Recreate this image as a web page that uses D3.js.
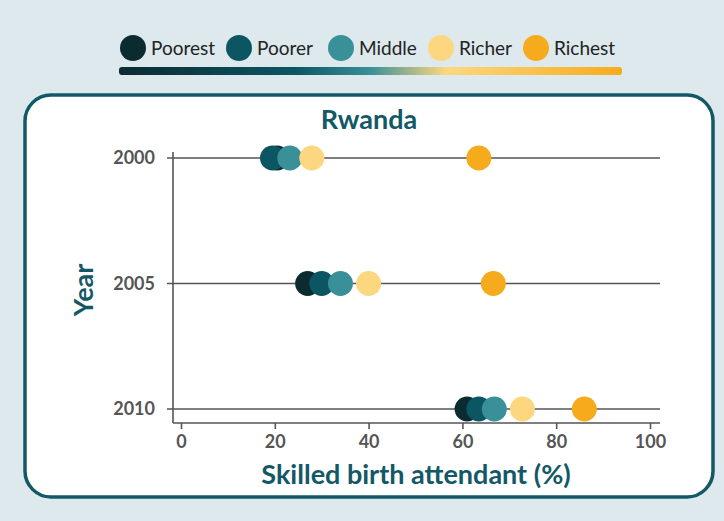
<!DOCTYPE html>
<html>
<head>
<style>
  body { margin: 0; background: #dde9ec; font-family: "Lato", sans-serif; }
  svg { display: block; }
</style>
</head>
<body>
<svg id="chart" width="724" height="521"></svg>
<script src="https://d3js.org/d3.v7.min.js"></script>
<script>
// data
var years = ["2000", "2005", "2010"];
var groups = ["Poorest", "Poorer", "Middle", "Richer", "Richest"];
var colors = ["#0b2b31", "#0c5664", "#3a9098", "#fdd780", "#f6ab1c"];
var poorest = [20.5, 27, 61];
var poorer  = [19.5, 30, 63.5];
var middle  = [23.2, 34, 66.8];
var richer  = [27.9, 40, 72.8];
var richest = [63.5, 66.6, 86];
var xTicks = [0, 20, 40, 60, 80, 100];

var series = [poorest, poorer, middle, richer, richest];

var svg = d3.select("#chart");
var teal = "#135866";

// background panel
svg.append("rect")
  .attr("x", 25).attr("y", 95)
  .attr("width", 688).attr("height", 402)
  .attr("rx", 26)
  .attr("fill", "white")
  .attr("stroke", teal)
  .attr("stroke-width", 3.5);

// legend
var legendX = [133, 239, 341, 441, 536];
var legend = svg.append("g");
groups.forEach(function(g, i) {
  legend.append("circle")
    .attr("cx", legendX[i]).attr("cy", 48).attr("r", 13)
    .attr("fill", colors[i]);
  legend.append("text")
    .attr("x", legendX[i] + 18).attr("y", 55)
    .attr("font-size", 19)
    .attr("fill", "#222")
    .text(g);
});
var grad = svg.append("defs").append("linearGradient").attr("id", "lg");
[[0, colors[0]], [0.35, colors[1]], [0.5, colors[2]], [0.65, colors[3]], [1, colors[4]]]
  .forEach(function(s) {
    grad.append("stop").attr("offset", s[0]).attr("stop-color", s[1]);
  });
svg.append("rect")
  .attr("x", 119).attr("y", 67)
  .attr("width", 503).attr("height", 8)
  .attr("rx", 3)
  .attr("fill", "url(#lg)");

// scales
var x = d3.scaleLinear().domain([0, 100]).range([181, 650]);
var y = d3.scalePoint().domain(years).range([158, 409]);

// row lines
svg.append("g").selectAll("line")
  .data(years).enter().append("line")
  .attr("x1", 167).attr("x2", 660)
  .attr("y1", function(d) { return y(d); })
  .attr("y2", function(d) { return y(d); })
  .attr("stroke", "#555").attr("stroke-width", 1.6);

// axes
var xAxis = svg.append("g")
  .attr("transform", "translate(0,423)")
  .call(d3.axisBottom(x).tickValues(xTicks).tickSize(6).tickSizeOuter(0));
xAxis.select(".domain").remove();
xAxis.append("line")
  .attr("x1", 173).attr("x2", 660)
  .attr("stroke", "#555").attr("stroke-width", 1.6);
xAxis.selectAll(".tick line").attr("stroke", "#555").attr("stroke-width", 1.6);
xAxis.selectAll(".tick text")
  .attr("font-family", "Lato").attr("font-size", 18).attr("font-weight", "bold")
  .attr("fill", "#555").attr("dy", "0.9em");

svg.append("line")
  .attr("x1", 173).attr("x2", 173).attr("y1", 152).attr("y2", 423)
  .attr("stroke", "#555").attr("stroke-width", 1.6);

svg.append("g").selectAll("text")
  .data(years).enter().append("text")
  .attr("x", 155).attr("y", function(d) { return y(d) + 6; })
  .attr("text-anchor", "end")
  .attr("font-size", 18).attr("font-weight", "bold")
  .attr("fill", "#555")
  .text(function(d) { return d; });

// dots, poorest drawn first so it sits behind
series.forEach(function(vals, i) {
  svg.append("g").selectAll("circle")
    .data(vals).enter().append("circle")
    .attr("cx", function(d) { return x(d); })
    .attr("cy", function(d, j) { return y(years[j]); })
    .attr("r", 12.5)
    .attr("fill", colors[i]);
});

// titles
svg.append("text")
  .attr("x", 369).attr("y", 129)
  .attr("text-anchor", "middle")
  .attr("font-size", 27).attr("font-weight", "bold")
  .attr("fill", teal)
  .text("Rwanda");

svg.append("text")
  .attr("x", 416).attr("y", 484)
  .attr("text-anchor", "middle")
  .attr("font-size", 27).attr("font-weight", "bold")
  .attr("fill", teal)
  .text("Skilled birth attendant (%)");

svg.append("text")
  .attr("transform", "translate(93,290) rotate(-90)")
  .attr("text-anchor", "middle")
  .attr("font-size", 27).attr("font-weight", "bold")
  .attr("fill", teal)
  .text("Year");
</script>
</body>
</html>
